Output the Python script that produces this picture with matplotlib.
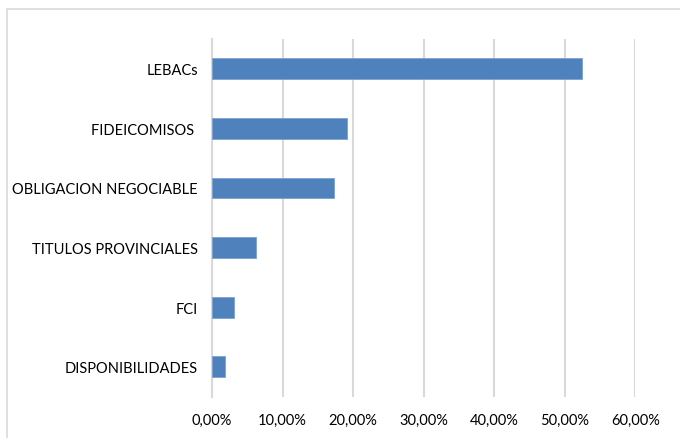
import matplotlib
matplotlib.use("Agg")
import matplotlib.pyplot as plt
from matplotlib.patches import Rectangle
from matplotlib.ticker import FuncFormatter

# categories from bottom to top, as the chart draws them
categorias = ["DISPONIBILIDADES", "FCI", "TITULOS PROVINCIALES",
              "OBLIGACION NEGOCIABLE", "FIDEICOMISOS ", "LEBACs"]
valores = [0.019, 0.031, 0.063, 0.173, 0.192, 0.525]
ticks_x = [0.0, 0.1, 0.2, 0.3, 0.4, 0.5, 0.6]

plt.rcParams['font.family'] = ['Lato', 'DejaVu Sans']

fig = plt.figure(figsize=(6.8, 4.39), dpi=100)
W, H = 680, 439
ax = fig.add_axes([212 / W, 1 - 397.6 / H, (635.3 - 212) / W, (397.6 - 40) / H])

# outer chart border (runs off the right and bottom of the image)
fig.patches.append(Rectangle((7 / W, -0.05), 1.2, 1 - 10 / H + 0.05,
                             transform=fig.transFigure, fill=False,
                             edgecolor='#D9D9D9', linewidth=1.2))

ax.barh(range(len(categorias)), valores, height=0.35, color='#4F81BD',
        edgecolor='#7DA2CE', linewidth=0.6, zorder=3)

ax.set_xlim(0, 0.6)
ax.set_ylim(-0.5, len(categorias) - 0.5)
ax.set_xticks(ticks_x)
ax.xaxis.set_major_formatter(FuncFormatter(lambda v, p: f"{v * 100:.2f}%".replace('.', ',')))
ax.set_yticks(range(len(categorias)))
ax.set_yticklabels(categorias)

ax.grid(axis='x', color='#D9D9D9', linewidth=1.5, zorder=0)
for s in ['top', 'right', 'bottom']:
    ax.spines[s].set_visible(False)
ax.spines['left'].set_color('#D9D9D9')
ax.spines['left'].set_linewidth(1.5)

ax.tick_params(axis='both', length=0, labelsize=10.5, labelcolor='#000000')
ax.tick_params(axis='x', pad=11.5)
ax.tick_params(axis='y', pad=10)

fig.savefig("out.png", dpi=100)
